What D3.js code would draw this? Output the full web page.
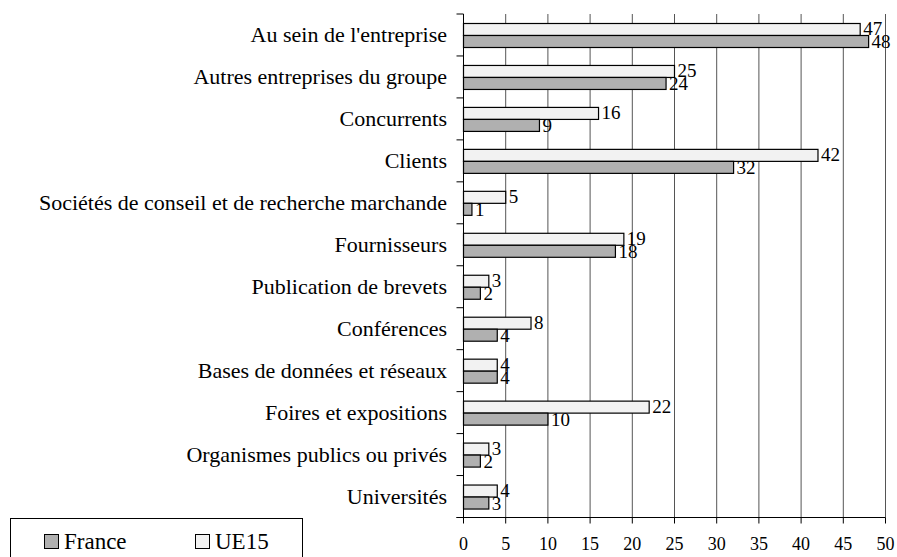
<!DOCTYPE html>
<html><head><meta charset="utf-8">
<script src="https://cdn.jsdelivr.net/npm/d3@7"></script>
<style>body{margin:0;background:#fff}svg{display:block}text{font-family:"Liberation Serif","Times New Roman",serif;fill:#000}</style>
</head><body><svg id="c" width="897" height="557"></svg>
<script>
const categories = ["Au sein de l'entreprise","Autres entreprises du groupe","Concurrents","Clients","Sociétés de conseil et de recherche marchande","Fournisseurs","Publication de brevets","Conférences","Bases de données et réseaux","Foires et expositions","Organismes publics ou privés","Universités"];
const france = [48,24,9,32,1,18,2,4,4,10,2,3];
const ue15 = [47,25,16,42,5,19,3,8,4,22,3,4];
const xTicks = [0,5,10,15,20,25,30,35,40,45,50];
const seriesNames = ["France","UE15"];

(function(){
const svg = d3.select("#c");
const pl = 463.5, pr = 885.5, pt = 14, pb = 517.5;
const x = d3.scaleLinear().domain([0,50]).range([pl,pr]);
const y = d3.scaleBand().domain(categories).range([pt,pb]);
const cFr = "#b0b0b0", cUe = "#f2f2f2";

svg.append("g").selectAll("line").data(xTicks.slice(1)).join("line")
  .attr("x1",d=>x(d)).attr("x2",d=>x(d)).attr("y1",pt).attr("y2",pb)
  .attr("stroke","#555").attr("stroke-width",1);

const bh = 12, off = 9.5;
const g = svg.append("g");
categories.forEach((c,i)=>{
  const y0 = y(c);
  g.append("rect").attr("x",x(0)).attr("y",y0+off).attr("width",x(ue15[i])-x(0)).attr("height",bh)
    .attr("fill",cUe).attr("stroke","#000").attr("stroke-width",1.2);
  g.append("rect").attr("x",x(0)).attr("y",y0+off+bh).attr("width",x(france[i])-x(0)).attr("height",bh)
    .attr("fill",cFr).attr("stroke","#000").attr("stroke-width",1.2);
  g.append("text").attr("x",x(ue15[i])+3).attr("y",y0+off+bh-0.5).attr("font-size",19).text(ue15[i]);
  g.append("text").attr("x",x(france[i])+3).attr("y",y0+off+2*bh+0.5).attr("font-size",19).text(france[i]);
});

const ya = svg.append("g");
ya.append("line").attr("x1",pl).attr("x2",pl).attr("y1",pt).attr("y2",pb).attr("stroke","#000");
const yTickPos = d3.range(categories.length+1).map(i=>pt+i*y.step());
ya.selectAll("line.t").data(yTickPos).join("line").attr("class","t")
  .attr("x1",pl-7).attr("x2",pl).attr("y1",d=>d).attr("y2",d=>d).attr("stroke","#000");
ya.selectAll("text").data(categories).join("text")
  .attr("x",447).attr("y",d=>y(d)+y.bandwidth()/2+7.5).attr("text-anchor","end").attr("font-size",22).text(d=>d);

const xa = svg.append("g");
xa.append("line").attr("x1",pl-7).attr("x2",pr).attr("y1",pb).attr("y2",pb).attr("stroke","#000");
xa.selectAll("line.t").data(xTicks).join("line").attr("class","t")
  .attr("x1",d=>x(d)).attr("x2",d=>x(d)).attr("y1",pb).attr("y2",pb+6).attr("stroke","#000");
xa.selectAll("text").data(xTicks).join("text")
  .attr("x",d=>x(d)).attr("y",550).attr("text-anchor","middle").attr("font-size",18).text(d=>d);

const lg = svg.append("g");
lg.append("rect").attr("x",10.5).attr("y",518.5).attr("width",292).attr("height",50).attr("fill","#fff").attr("stroke","#000");
const lx = [44,195];
seriesNames.forEach((s,i)=>{
  lg.append("rect").attr("x",lx[i]+0.5).attr("y",534.5).attr("width",14).attr("height",14)
    .attr("fill",i===0?cFr:cUe).attr("stroke","#000");
  lg.append("text").attr("x",lx[i]+20).attr("y",549).attr("font-size",23).text(s);
});
})();
</script></body></html>
